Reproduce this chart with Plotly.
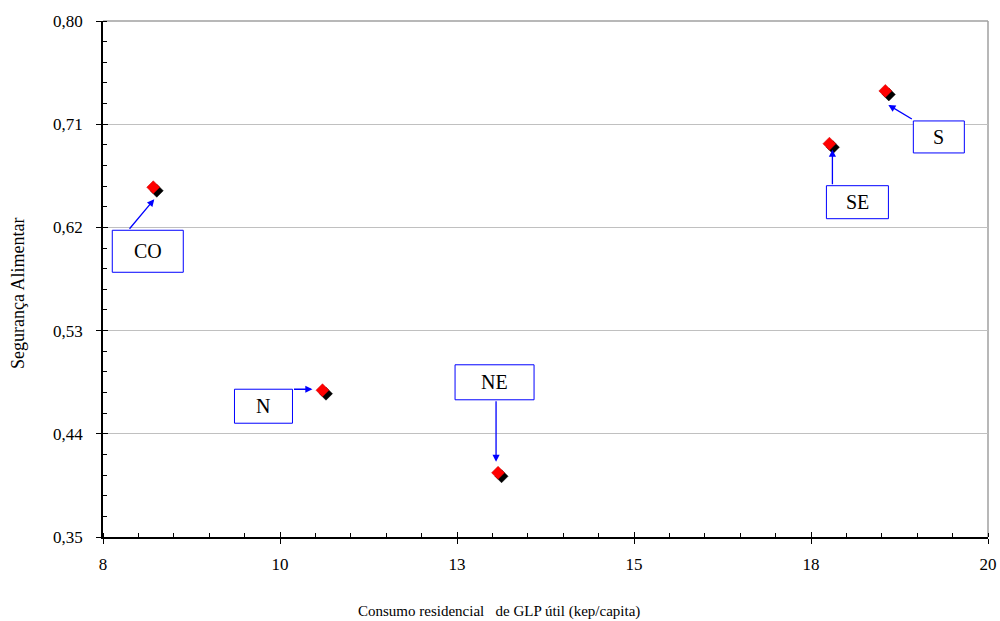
import plotly.graph_objects as go

# ---- data ----
regions = ["CO", "N", "NE", "SE", "S"]
glp = [8.21, 10.60, 13.08, 17.76, 18.55]
seguranca = [0.655, 0.478, 0.406, 0.693, 0.739]

x_tickvals = [7.5, 10, 12.5, 15, 17.5, 20]
x_ticktext = ["8", "10", "13", "15", "18", "20"]
y_tickvals = [0.35, 0.44, 0.53, 0.62, 0.71, 0.80]

# ---- layout geometry ----
W, H = 1000, 621
ML, MR, MT, MB = 103, 12, 21, 84
PW, PH = W - ML - MR, H - MT - MB
XR = [7.5, 20]
YR = [0.35, 0.80]
SH = 3.5  # shadow offset in px
dx = SH * (XR[1] - XR[0]) / PW
dy = SH * (YR[1] - YR[0]) / PH

FONT = "Times New Roman, Liberation Serif, serif"
BLUE = "#0000FF"

# label box / arrow layout in pixels relative to each point (y up)
label_layout = {
    "CO": dict(box=(-41, 30, -43, -85), tip=(1, -12), tail=(-26, 31)),
    "N": dict(box=(-88, -30, 1, -33), tip=(-10, 1), tail=(-20, 0)),
    "NE": dict(box=(-43, 36, 108, 73), tip=(-2, 11), tail=(0, -62)),
    "SE": dict(box=(-3, 59, -42, -75), tip=(3, -6), tail=(0, 36)),
    "S": dict(box=(28, 79, -30, -62), tip=(3, -14), tail=(25, 15)),
}

fig = go.Figure()

# invisible base trace so that the main axes exist
fig.add_trace(go.Scatter(
    x=glp, y=seguranca, mode="markers", xaxis="x", yaxis="y",
    marker=dict(size=1, opacity=0), hoverinfo="skip", showlegend=False))
# shadow (black) on shifted overlay axes
fig.add_trace(go.Scatter(
    x=glp, y=seguranca, mode="markers", xaxis="x2", yaxis="y2",
    marker=dict(symbol="diamond", size=10, color="black",
                line=dict(color="black", width=0.5)),
    hoverinfo="skip", showlegend=False))
# red diamonds
fig.add_trace(go.Scatter(
    x=glp, y=seguranca, mode="markers", xaxis="x3", yaxis="y3",
    marker=dict(symbol="diamond", size=10, color="#FF0000",
                line=dict(color="#CC0000", width=0.5)),
    text=regions, showlegend=False))

shapes = []
annotations = []
for r, xv, yv in zip(regions, glp, seguranca):
    L = label_layout[r]
    x0, x1, y0, y1 = L["box"]
    shapes.append(dict(type="rect", xref="x", yref="y",
                       xsizemode="pixel", ysizemode="pixel",
                       xanchor=xv, yanchor=yv, x0=x0, x1=x1, y0=y0, y1=y1,
                       line=dict(color=BLUE, width=1), fillcolor="white",
                       layer="above"))
    annotations.append(dict(xref="x", yref="y", x=xv, y=yv,
                            xshift=(x0 + x1) / 2, yshift=(y0 + y1) / 2,
                            text=r, showarrow=False,
                            font=dict(family=FONT, size=20, color="black")))
    annotations.append(dict(xref="x", yref="y", x=xv, y=yv,
                            xshift=L["tip"][0], yshift=L["tip"][1],
                            text="", showarrow=True,
                            ax=L["tail"][0], ay=L["tail"][1],
                            arrowhead=2, arrowsize=1.1, arrowwidth=1.3,
                            arrowcolor=BLUE, standoff=0, startstandoff=0))

# plot-area border (gray, top & right)
shapes.append(dict(type="line", xref="paper", yref="paper", x0=1, x1=1, y0=0, y1=1,
                   line=dict(color="#A0A0A0", width=1.5), layer="below"))
shapes.append(dict(type="line", xref="paper", yref="paper", x0=0, x1=1, y0=1, y1=1,
                   line=dict(color="#A0A0A0", width=1.5), layer="below"))

# axis titles
annotations.append(dict(xref="paper", yref="paper",
                        x=(499 - ML) / PW, y=(MT + PH - 611) / PH,
                        text="Consumo residencial\u00a0\u00a0 de GLP útil (kep/capita)",
                        showarrow=False, xanchor="center", yanchor="middle",
                        font=dict(family=FONT, size=15, color="black")))
annotations.append(dict(xref="paper", yref="paper",
                        x=(18 - ML) / PW, y=(MT + PH - 294) / PH,
                        text="Segurança Alimentar", textangle=-90,
                        showarrow=False, xanchor="center", yanchor="middle",
                        font=dict(family=FONT, size=18, color="black")))

tickfont = dict(family=FONT, size=17, color="black")
fig.update_layout(
    width=W, height=H,
    margin=dict(l=ML, r=MR, t=MT, b=MB, autoexpand=False),
    paper_bgcolor="white", plot_bgcolor="white",
    separators=",.",
    showlegend=False,
    xaxis=dict(range=XR, tickmode="array", tickvals=x_tickvals, ticktext=x_ticktext,
               ticks="outside", ticklen=5, tickcolor="black", tickwidth=1,
               showline=True, linecolor="black", linewidth=1.5, automargin=False,
               showgrid=False, zeroline=False, tickfont=tickfont,
               ticklabelstandoff=6,
               minor=dict(ticks="inside", tickmode="linear", tick0=7.5, dtick=0.5,
                          ticklen=4, tickcolor="black", showgrid=False)),
    yaxis=dict(range=YR, tickmode="array", tickvals=y_tickvals, tickformat=".2f",
               ticks="outside", ticklen=5, tickcolor="black", tickwidth=1,
               showline=True, linecolor="black", linewidth=1.5, automargin=False,
               showgrid=True, gridcolor="#C0C0C0", gridwidth=1,
               zeroline=False, tickfont=tickfont, ticklabelstandoff=10,
               minor=dict(ticks="inside", tickmode="linear", tick0=0.35, dtick=0.018,
                          ticklen=4, tickcolor="black", showgrid=False)),
    xaxis2=dict(range=[XR[0] - dx, XR[1] - dx], overlaying="x", automargin=False,
                showticklabels=False, ticks="", showgrid=False, zeroline=False,
                showline=False),
    yaxis2=dict(range=[YR[0] + dy, YR[1] + dy], overlaying="y", automargin=False,
                showticklabels=False, ticks="", showgrid=False, zeroline=False,
                showline=False),
    xaxis3=dict(range=XR, overlaying="x", showticklabels=False, tickmode="array",
                tickvals=x_tickvals, ticks="inside", ticklen=5, tickcolor="black",
                automargin=False,
                showgrid=False, zeroline=False, showline=False),
    yaxis3=dict(range=YR, overlaying="y", showticklabels=False, tickmode="array",
                tickvals=y_tickvals, ticks="inside", ticklen=5, tickcolor="black",
                automargin=False,
                showgrid=False, zeroline=False, showline=False),
    shapes=shapes,
    annotations=annotations,
)

fig.write_html("out.html",
               config={"displayModeBar": False},
               post_script="document.body.style.margin='0';document.body.style.padding='0';")
